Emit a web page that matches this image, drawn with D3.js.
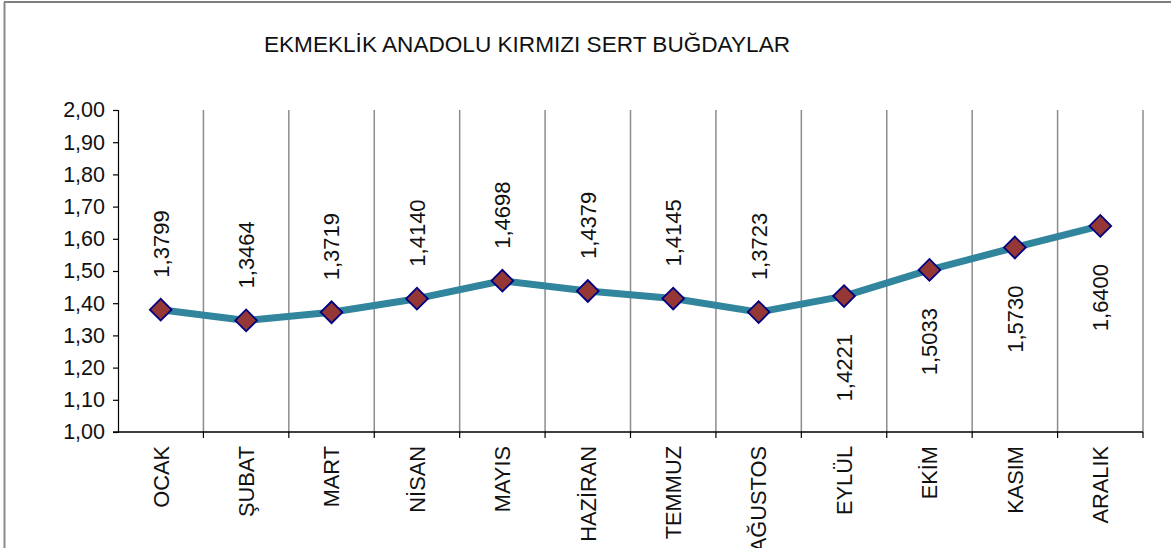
<!DOCTYPE html>
<html>
<head>
<meta charset="utf-8">
<script src="https://cdn.jsdelivr.net/npm/d3@7"></script>
<style>
  html, body { margin: 0; padding: 0; background: #fff; }
  svg { display: block; font-family: "Liberation Sans", Arial, sans-serif; }
</style>
</head>
<body>
<div id="chart"></div>
<script>
// months and monthly prices
const months = ["OCAK", "ŞUBAT", "MART", "NİSAN", "MAYIS", "HAZİRAN", "TEMMUZ", "AĞUSTOS", "EYLÜL", "EKİM", "KASIM", "ARALIK"];
const prices = [1.3799, 1.3464, 1.3719, 1.4140, 1.4698, 1.4379, 1.4145, 1.3723, 1.4221, 1.5033, 1.5730, 1.6400];
const labelSide = ["up", "up", "up", "up", "up", "up", "up", "up", "down", "down", "down", "down"];
const yTicks = [1.0, 1.1, 1.2, 1.3, 1.4, 1.5, 1.6, 1.7, 1.8, 1.9, 2.0];
const title = "EKMEKLİK ANADOLU KIRMIZI SERT BUĞDAYLAR";

const width = 1171, height = 548;
const margin = {left: 118, right: 28, top: 110, bottom: 116};

const svg = d3.select("#chart").append("svg")
  .attr("width", width)
  .attr("height", height);

// outer frame (only top and left are visible in the picture)
svg.append("line").attr("x1", 4).attr("x2", width).attr("y1", 2).attr("y2", 2)
  .attr("stroke", "#555").attr("stroke-width", 1.5);
svg.append("line").attr("x1", 4.5).attr("x2", 4.5).attr("y1", 2).attr("y2", height)
  .attr("stroke", "#8a8a8a").attr("stroke-width", 2);

const x = d3.scaleBand()
  .domain(months)
  .range([margin.left, width - margin.right]);

const y = d3.scaleLinear()
  .domain([1, 2])
  .range([height - margin.bottom, margin.top]);

svg.append("text")
  .attr("x", 527)
  .attr("y", 52)
  .attr("text-anchor", "middle")
  .attr("font-size", 22.6)
  .attr("fill", "#111")
  .text(title);

// vertical gridlines at category boundaries
const bounds = months.map(m => x(m) + x.bandwidth());
svg.append("g")
  .selectAll("line")
  .data(bounds)
  .join("line")
  .attr("x1", d => d).attr("x2", d => d)
  .attr("y1", y(2)).attr("y2", y(1))
  .attr("stroke", "#8c8c8c")
  .attr("stroke-width", 1.5);

// y axis
const yAxis = svg.append("g")
  .attr("transform", `translate(${margin.left},0)`)
  .call(d3.axisLeft(y).tickValues(yTicks).tickSize(5).tickPadding(8)
    .tickFormat(d => d3.format(".2f")(d).replace(".", ",")));
yAxis.select(".domain").attr("stroke", "#000").attr("stroke-width", 1.2);
yAxis.selectAll(".tick line").attr("stroke", "#000").attr("stroke-width", 1.2);
yAxis.selectAll("text").attr("font-size", 21.5).attr("fill", "#111")
  .attr("font-family", "\"Liberation Sans\", Arial, sans-serif");

// x axis
const xAxisG = svg.append("g")
  .attr("transform", `translate(0,${y(1)})`);
xAxisG.append("line")
  .attr("x1", margin.left - 5).attr("x2", width - margin.right)
  .attr("stroke", "#000").attr("stroke-width", 1.5);
xAxisG.selectAll(".xt")
  .data(bounds)
  .join("line")
  .attr("class", "xt")
  .attr("x1", d => d).attr("x2", d => d)
  .attr("y1", 0).attr("y2", 6)
  .attr("stroke", "#000").attr("stroke-width", 1.2);
xAxisG.selectAll("text")
  .data(months)
  .join("text")
  .attr("transform", d => `translate(${x(d) + x.bandwidth() / 2},14) rotate(-90)`)
  .attr("text-anchor", "end")
  .attr("dy", "0.36em")
  .attr("font-size", 21.8)
  .attr("fill", "#111")
  .text(d => d);

// series line
const pts = months.map((m, i) => ({m: m, v: prices[i], side: labelSide[i]}));
const line = d3.line()
  .x(d => x(d.m) + x.bandwidth() / 2)
  .y(d => y(d.v));

svg.append("path")
  .datum(pts)
  .attr("d", line)
  .attr("fill", "none")
  .attr("stroke", "#31859c")
  .attr("stroke-width", 7)
  .attr("stroke-linejoin", "round");

// diamond markers
svg.append("g")
  .selectAll("path")
  .data(pts)
  .join("path")
  .attr("transform", d => `translate(${x(d.m) + x.bandwidth() / 2},${y(d.v)}) rotate(45)`)
  .attr("d", d3.symbol(d3.symbolSquare, 236))
  .attr("fill", "#953735")
  .attr("stroke", "#000080")
  .attr("stroke-width", 1.8);

// value labels, rotated
svg.append("g")
  .selectAll("text")
  .data(pts)
  .join("text")
  .attr("transform", d => {
    const cx = x(d.m) + x.bandwidth() / 2;
    const cy = d.side === "up" ? y(d.v) - 32 : y(d.v) + 38;
    return `translate(${cx},${cy}) rotate(-90)`;
  })
  .attr("text-anchor", d => d.side === "up" ? "start" : "end")
  .attr("dy", "0.36em")
  .attr("font-size", 22)
  .attr("fill", "#111")
  .text(d => d3.format(".4f")(d.v).replace(".", ","));
</script>
</body>
</html>
